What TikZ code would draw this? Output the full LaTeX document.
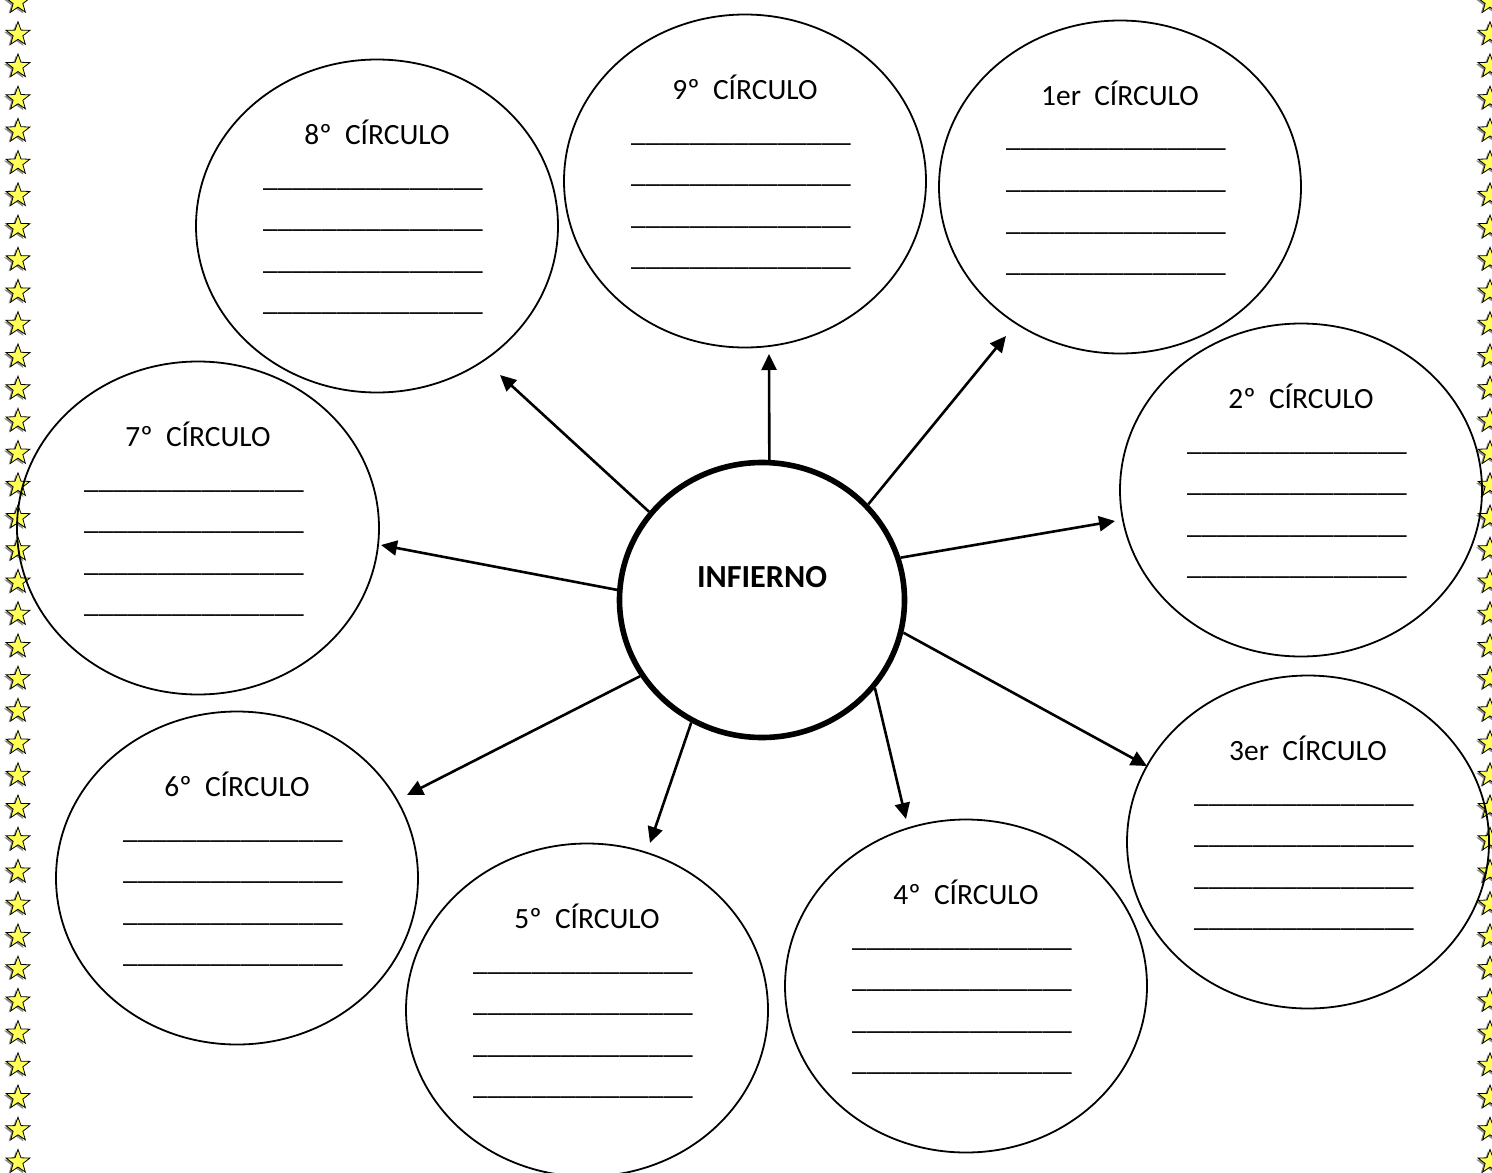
\documentclass[tikz,border=0pt]{standalone}
\usepackage{fontspec}
\setmainfont{Carlito}
\usetikzlibrary{shapes.geometric,arrows.meta}
\definecolor{staryellow}{HTML}{FFFF55}
\definecolor{starshadow}{HTML}{8C8C8C}
\newcommand\ulinetext{\_\_\_\_\_\_\_\_\_\_\_\_\_\_\_}
\tikzset{
  starsym/.style={star, star points=5, star point ratio=2.45, minimum size=12.5pt, inner sep=0pt, fill=staryellow, draw=black, line width=0.4pt},
  starshad/.style={star, star points=5, star point ratio=2.45, minimum size=12.5pt, inner sep=0pt, fill=starshadow, draw=none},
  bub/.style={ellipse, draw=black, line width=0.9pt, minimum width=181pt, minimum height=166.5pt, inner sep=0pt},
  hub/.style={ellipse, draw=black, line width=2.8pt, minimum width=142.5pt, minimum height=137.5pt, inner sep=0pt},
  ttl/.style={anchor=base, inner sep=0pt, font=\fontsize{14.7}{17}\selectfont},
  uln/.style={anchor=base, inner sep=0pt, font=\fontsize{14.7}{17}\selectfont},
  hubtxt/.style={anchor=base, inner sep=0pt, font=\fontsize{16.1}{19}\selectfont\bfseries},
  arr/.style={line width=1.3pt, -{Triangle[length=8pt,width=7.5pt]}}
}
\newcommand\circbubble[4]{%
  \node[bub] (#1) at (#2,#3) {};
  \node[ttl] (#1t) at (#2,#3-81.5) {#4};
  \foreach \i/\dy in {1/-40,2/1.5,3/43,4/84.5}{
    \node[uln] (#1l\i) at (#2-4,#3+\dy) {\ulinetext};
  }%
}
\begin{document}
\begin{tikzpicture}[x=0.5pt,y=-0.5pt]
\useasboundingbox (0,0) rectangle (1492,1172);
\fill[white] (0,0) rectangle (1492,1172);
% star borders
\foreach \k in {0,...,36}{
  \node[starshad] (sLs\k) at (16,{3.5+32.22*\k}) {};
  \node[starsym] (sL\k) at (18,{2+32.22*\k}) {};
  \node[starshad] (sRs\k) at (1488,{3.5+32.22*\k}) {};
  \node[starsym] (sR\k) at (1490,{2+32.22*\k}) {};
}
% bubbles
\circbubble{c9}{745}{181}{9º\ \ CÍRCULO}
\circbubble{c1}{1120}{187}{1er\ \ CÍRCULO}
\circbubble{c8}{377}{226}{8º\ \ CÍRCULO}
\circbubble{c2}{1301}{490}{2º\ \ CÍRCULO}
\circbubble{c7}{198}{528}{7º\ \ CÍRCULO}
\circbubble{c3}{1308}{842}{3er\ \ CÍRCULO}
\circbubble{c6}{237}{878}{6º\ \ CÍRCULO}
\circbubble{c5}{587}{1010}{5º\ \ CÍRCULO}
\circbubble{c4}{966}{986}{4º\ \ CÍRCULO}
% hub
\node[hub] (inf) at (762,600) {};
\node[hubtxt] (inftxt) at (762,587) {INFIERNO};
% arrow tips
\coordinate (t9) at (769,354);
\coordinate (t1) at (1006,336);
\coordinate (t2) at (1115,521);
\coordinate (t3) at (1147,766);
\coordinate (t4) at (906,819);
\coordinate (t5) at (650,843);
\coordinate (t6) at (407,795);
\coordinate (t7) at (381,545);
\coordinate (t8) at (500,375);
\draw[arr] (inf.87) -- (t9);
\draw[arr] (inf.42.5) -- (t1);
\draw[arr] (inf.17.8) -- (t2);
\draw[arr] (inf.-13) -- (t3);
\draw[arr] (inf.-38) -- (t4);
\draw[arr] (inf.-120) -- (t5);
\draw[arr] (inf.-148) -- (t6);
\draw[arr] (inf.176) -- (t7);
\draw[arr] (inf.142.5) -- (t8);
\end{tikzpicture}
\end{document}
